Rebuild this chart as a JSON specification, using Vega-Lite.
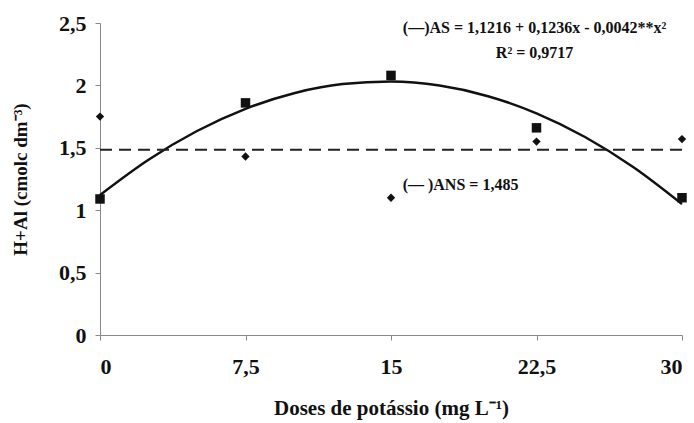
{
  "$schema": "https://vega.github.io/schema/vega-lite/v6.json",
  "width": 582,
  "height": 312,
  "autosize": "none",
  "padding": {"left": 100, "top": 23, "right": 12, "bottom": 88},
  "background": "white",
  "config": {
    "view": {"stroke": null},
    "font": "Liberation Serif",
    "axis": {
      "grid": false,
      "domainColor": "#888888",
      "tickColor": "#888888",
      "labelFont": "Liberation Serif",
      "labelFontWeight": "bold",
      "labelFontSize": 22,
      "labelColor": "#111111",
      "titleFont": "Liberation Serif",
      "titleFontWeight": "bold",
      "titleFontSize": 21,
      "titleColor": "#111111"
    }
  },
  "datasets": {
    "pts": [
      {"dose": 0, "v": 1.09, "s": "AS"},
      {"dose": 7.5, "v": 1.86, "s": "AS"},
      {"dose": 15, "v": 2.08, "s": "AS"},
      {"dose": 22.5, "v": 1.66, "s": "AS"},
      {"dose": 30, "v": 1.1, "s": "AS"},
      {"dose": 0, "v": 1.75, "s": "ANS"},
      {"dose": 7.5, "v": 1.43, "s": "ANS"},
      {"dose": 15, "v": 1.1, "s": "ANS"},
      {"dose": 22.5, "v": 1.55, "s": "ANS"},
      {"dose": 30, "v": 1.57, "s": "ANS"}
    ],
    "curve": [
      {"dose": 0, "v": 1.1216},
      {"dose": 2.5, "v": 1.4044},
      {"dose": 5, "v": 1.6346},
      {"dose": 7.5, "v": 1.8124},
      {"dose": 10, "v": 1.9376},
      {"dose": 12.5, "v": 2.0104},
      {"dose": 15, "v": 2.0306},
      {"dose": 17.5, "v": 1.9984},
      {"dose": 20, "v": 1.9136},
      {"dose": 22.5, "v": 1.7764},
      {"dose": 25, "v": 1.5866},
      {"dose": 27.5, "v": 1.3444},
      {"dose": 30, "v": 1.0496}
    ],
    "flat": [
      {"dose": 0, "v": 1.485},
      {"dose": 30, "v": 1.485}
    ],
    "notes": [
      {"dose": 22.4, "v": 2.46, "t": "(—)AS = 1,1216 + 0,1236x - 0,0042**x²"},
      {"dose": 22.4, "v": 2.26, "t": "R² = 0,9717"}
    ],
    "note2": [
      {"dose": 15.6, "v": 1.2, "t": "(— )ANS = 1,485"}
    ]
  },
  "encoding": {
    "x": {
      "field": "dose", "type": "quantitative",
      "scale": {"domain": [0, 30], "nice": false},
      "axis": {
        "values": [0, 7.5, 15, 22.5, 30],
        "labelExpr": "replace(toString(datum.value), '.', ',')",
        "title": "Doses de potássio (mg L⁻¹)",
        "tickSize": 5,
        "labelPadding": 16,
        "titlePadding": 20
      }
    },
    "y": {
      "field": "v", "type": "quantitative",
      "scale": {"domain": [0, 2.5], "nice": false},
      "axis": {
        "values": [0, 0.5, 1, 1.5, 2, 2.5],
        "labelExpr": "replace(toString(datum.value), '.', ',')",
        "title": "H+Al (cmolc dm⁻³)",
        "titleFontSize": 19,
        "tickSize": 5,
        "labelPadding": 9,
        "titleX": -70
      }
    }
  },
  "layer": [
    {
      "data": {"name": "curve"},
      "mark": {"type": "line", "interpolate": "monotone", "color": "#111111", "strokeWidth": 2.5}
    },
    {
      "data": {"name": "flat"},
      "mark": {"type": "line", "color": "#222222", "strokeWidth": 2, "strokeDash": [12, 7]}
    },
    {
      "data": {"name": "pts"},
      "transform": [{"filter": "datum.s == 'AS'"}],
      "mark": {"type": "point", "shape": "square", "filled": true, "size": 90, "color": "#111111", "opacity": 1}
    },
    {
      "data": {"name": "pts"},
      "transform": [{"filter": "datum.s == 'ANS'"}],
      "mark": {"type": "point", "shape": "diamond", "filled": true, "size": 70, "color": "#111111", "opacity": 1}
    },
    {
      "data": {"name": "notes"},
      "mark": {"type": "text", "font": "Liberation Serif", "fontWeight": "bold", "fontSize": 16, "color": "#111111", "baseline": "middle", "align": "center"},
      "encoding": {"text": {"field": "t"}}
    },
    {
      "data": {"name": "note2"},
      "mark": {"type": "text", "font": "Liberation Serif", "fontWeight": "bold", "fontSize": 16, "color": "#111111", "baseline": "middle", "align": "left"},
      "encoding": {"text": {"field": "t"}}
    }
  ]
}
